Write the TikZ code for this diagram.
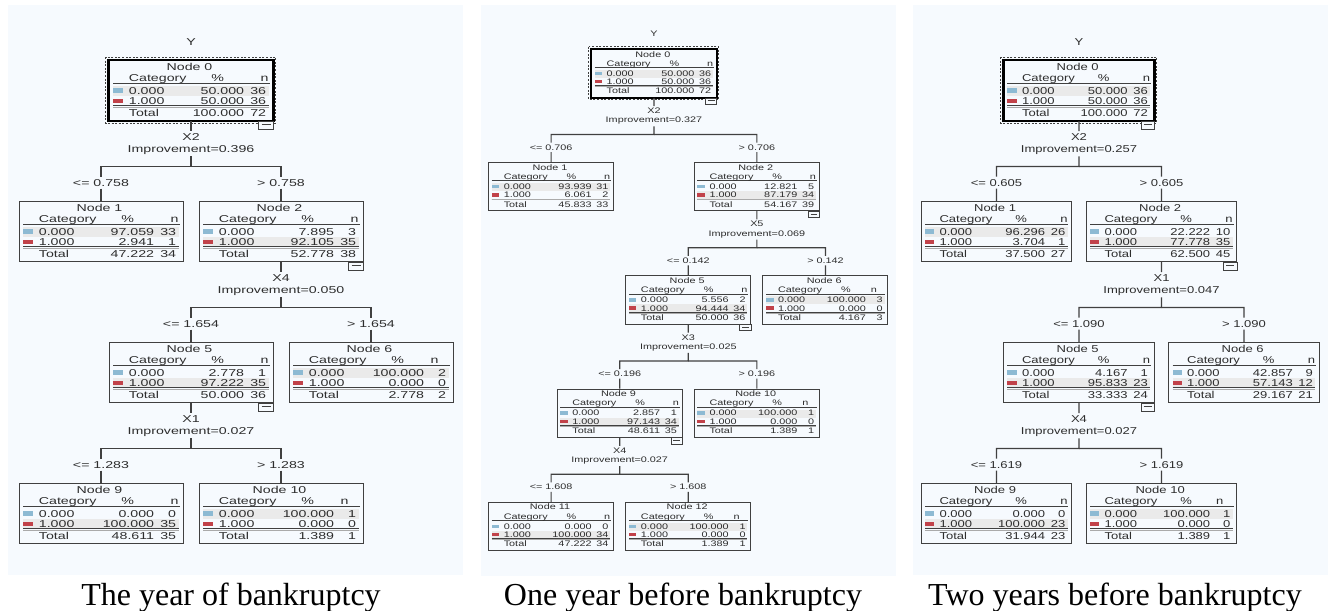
\documentclass[tikz,border=0pt]{standalone}
\usepackage{fontspec}
\usepackage{xcolor}
\usetikzlibrary{positioning}
\newfontfamily\spssfont[FakeStretch=1.42]{Liberation Sans}
\newfontfamily\capfont{Liberation Serif}
\newcommand{\cartfont}{\spssfont\fontsize{5pt}{6pt}\selectfont}

\definecolor{panelbg}{RGB}{246,250,254}
\definecolor{rowgray}{RGB}{234,234,234}
\definecolor{catblue}{RGB}{141,186,211}
\definecolor{catred}{RGB}{193,66,74}
\definecolor{linegray}{RGB}{64,64,64}
\definecolor{rulegray}{RGB}{170,170,170}
\definecolor{txtgray}{RGB}{45,45,45}

\tikzset{
  cartbox/.style={draw=linegray, line width=0.5pt, anchor=north,
    minimum width=82pt, minimum height=30pt, inner sep=0pt},
  rootline/.style={draw=black, line width=1.2pt},
  rootdots/.style={draw=linegray, line width=0.5pt, dash pattern=on 1pt off 0.8pt},
  celltxt/.style={inner sep=0pt, font=\cartfont, text=txtgray},
  splittxt/.style={inner sep=1pt, font=\cartfont, text=txtgray},
  captxt/.style={inner sep=0pt, font=\capfont\fontsize{16pt}{18pt}\selectfont},
  edge/.style={draw=linegray, line width=0.6pt},
  iconbox/.style={draw=linegray, line width=0.4pt, fill=panelbg},
}

% #1 name, #2 position of top, #3 number, #4-#9 percent and n of rows
\newcommand{\cartnode}[9]{%
  \node[cartbox] (#1) at #2 {};
  \begin{scope}[shift={(#1.north west)}]
    \ifnum#5<#7\relax
      \fill[rowgray] (4.5,36) rectangle (160,45.6);
    \else
      \fill[rowgray] (4.5,26) rectangle (160,36);
    \fi
    \draw[linegray, line width=0.5pt] (4.5,23.3) -- (161,23.3);
    \draw[linegray, line width=0.5pt] (4.5,45.9) -- (160,45.9);
    \draw[rulegray, line width=0.5pt] (4.5,47) -- (160,47);
    \fill[catblue] (4.5,28.2) rectangle (14.5,32.6);
    \fill[catred] (4.5,38.5) rectangle (14.5,42.9);
    \node[celltxt, anchor=base] (#1-t) at (81,10) {Node #3};
    \node[celltxt, anchor=base west] (#1-hc) at (20,21.5) {Category};
    \node[celltxt, anchor=base] (#1-hp) at (109.3,21.5) {\%};
    \ifnum#9<10\relax
      \node[celltxt, anchor=base] (#1-hn) at (146,21.5) {n};
    \else
      \node[celltxt, anchor=base east] (#1-hn) at (160.5,21.5) {n};
    \fi
    \node[celltxt, anchor=base west] (#1-c0) at (20,34) {0.000};
    \node[celltxt, anchor=base east] (#1-p0) at (136,34) {#4};
    \node[celltxt, anchor=base east] (#1-n0) at (158,34) {#5};
    \node[celltxt, anchor=base west] (#1-c1) at (20,44.3) {1.000};
    \node[celltxt, anchor=base east] (#1-p1) at (136,44.3) {#6};
    \node[celltxt, anchor=base east] (#1-n1) at (158,44.3) {#7};
    \node[celltxt, anchor=base west] (#1-ct) at (20,56) {Total};
    \node[celltxt, anchor=base east] (#1-pt) at (136,56) {#8};
    \node[celltxt, anchor=base east] (#1-nt) at (158,56) {#9};
  \end{scope}}

\newcommand{\rootframe}[1]{%
  \draw[rootline] (#1.north west) rectangle (#1.south east);
  \draw[rootdots] (#1.north west) ++(-3,-3) rectangle ++(170,66);}

% #1 parent, #2 left child, #3 right child, #4 variable, #5 improvement, #6 split value
\newcommand{\cartsplit}[6]{%
  \path (#1.south) ++(0,19.5) node[splittxt, anchor=base] (#1v) {#4};
  \path (#1.south) ++(0,31) node[splittxt, anchor=base] (#1i) {Improvement=#5};
  \path (#1.south) ++(0,45.5) coordinate (#1b);
  \path (#2.north) ++(0,-15) node[splittxt, anchor=base] (#2l) {<= #6};
  \path (#3.north) ++(0,-15) node[splittxt, anchor=base] (#3l) {> #6};
  \draw[edge] (#1) -- (#1v) (#1i) -- (#1b) -| (#2l) -- (#2);
  \draw[edge] (#1b) -| (#3l) -- (#3);
  \draw[iconbox] (#1.south east) ++(-15,0) rectangle ++(15,8);
  \draw[linegray, line width=0.4pt] (#1.south east) ++(-12,3.5) -- ++(9,0);}

\begin{document}
\begin{tikzpicture}[x=0.5pt, y=-0.5pt]
  \useasboundingbox (0,0) rectangle (1330,611);
  \fill[white] (0,0) rectangle (1330,611);
  \fill[panelbg] (8,5) rectangle (463,575);
  \fill[panelbg] (481,5) rectangle (896,576);
  \fill[panelbg] (913,5) rectangle (1328,575);

  % the year of bankruptcy
  \begin{scope}[shift={(191,60)}, transform shape]
    \node[splittxt, anchor=base] (aY) at (0,-15) {Y};
    \cartnode{a0}{(0,0)}{0}{50.000}{36}{50.000}{36}{100.000}{72}
    \cartnode{a1}{(-90,141)}{1}{97.059}{33}{2.941}{1}{47.222}{34}
    \cartnode{a2}{(90,141)}{2}{7.895}{3}{92.105}{35}{52.778}{38}
    \cartnode{a5}{(0,282)}{5}{2.778}{1}{97.222}{35}{50.000}{36}
    \cartnode{a6}{(180,282)}{6}{100.000}{2}{0.000}{0}{2.778}{2}
    \cartnode{a9}{(-90,423)}{9}{0.000}{0}{100.000}{35}{48.611}{35}
    \cartnode{a10}{(90,423)}{10}{100.000}{1}{0.000}{0}{1.389}{1}
    \rootframe{a0}
    \cartsplit{a0}{a1}{a2}{X2}{0.396}{0.758}
    \cartsplit{a2}{a5}{a6}{X4}{0.050}{1.654}
    \cartsplit{a5}{a9}{a10}{X1}{0.027}{1.283}
  \end{scope}

  % one year before bankruptcy
  \begin{scope}[shift={(654,49)}, xscale=0.762, yscale=0.803, transform shape]
    \node[splittxt, anchor=base] (bY) at (0,-15) {Y};
    \cartnode{b0}{(0,0)}{0}{50.000}{36}{50.000}{36}{100.000}{72}
    \cartnode{b1}{(-135,141)}{1}{93.939}{31}{6.061}{2}{45.833}{33}
    \cartnode{b2}{(135,141)}{2}{12.821}{5}{87.179}{34}{54.167}{39}
    \cartnode{b5}{(45,282)}{5}{5.556}{2}{94.444}{34}{50.000}{36}
    \cartnode{b6}{(225,282)}{6}{100.000}{3}{0.000}{0}{4.167}{3}
    \cartnode{b9}{(-45,423)}{9}{2.857}{1}{97.143}{34}{48.611}{35}
    \cartnode{b10}{(135,423)}{10}{100.000}{1}{0.000}{0}{1.389}{1}
    \cartnode{b11}{(-135,564)}{11}{0.000}{0}{100.000}{34}{47.222}{34}
    \cartnode{b12}{(45,564)}{12}{100.000}{1}{0.000}{0}{1.389}{1}
    \rootframe{b0}
    \cartsplit{b0}{b1}{b2}{X2}{0.327}{0.706}
    \cartsplit{b2}{b5}{b6}{X5}{0.069}{0.142}
    \cartsplit{b5}{b9}{b10}{X3}{0.025}{0.196}
    \cartsplit{b9}{b11}{b12}{X4}{0.027}{1.608}
  \end{scope}

  % two years before bankruptcy
  \begin{scope}[shift={(1079,60)}, xscale=0.917, transform shape]
    \node[splittxt, anchor=base] (cY) at (0,-15) {Y};
    \cartnode{c0}{(0,0)}{0}{50.000}{36}{50.000}{36}{100.000}{72}
    \cartnode{c1}{(-90,141)}{1}{96.296}{26}{3.704}{1}{37.500}{27}
    \cartnode{c2}{(90,141)}{2}{22.222}{10}{77.778}{35}{62.500}{45}
    \cartnode{c5}{(0,282)}{5}{4.167}{1}{95.833}{23}{33.333}{24}
    \cartnode{c6}{(180,282)}{6}{42.857}{9}{57.143}{12}{29.167}{21}
    \cartnode{c9}{(-90,423)}{9}{0.000}{0}{100.000}{23}{31.944}{23}
    \cartnode{c10}{(90,423)}{10}{100.000}{1}{0.000}{0}{1.389}{1}
    \rootframe{c0}
    \cartsplit{c0}{c1}{c2}{X2}{0.257}{0.605}
    \cartsplit{c2}{c5}{c6}{X1}{0.047}{1.090}
    \cartsplit{c5}{c9}{c10}{X4}{0.027}{1.619}
  \end{scope}

  \node[captxt, anchor=base] (capA) at (231,605) {The year of bankruptcy};
  \node[captxt, anchor=base] (capB) at (683,605) {One year before bankruptcy};
  \node[captxt, anchor=base] (capC) at (1115,605) {Two years before bankruptcy};
\end{tikzpicture}
\end{document}
